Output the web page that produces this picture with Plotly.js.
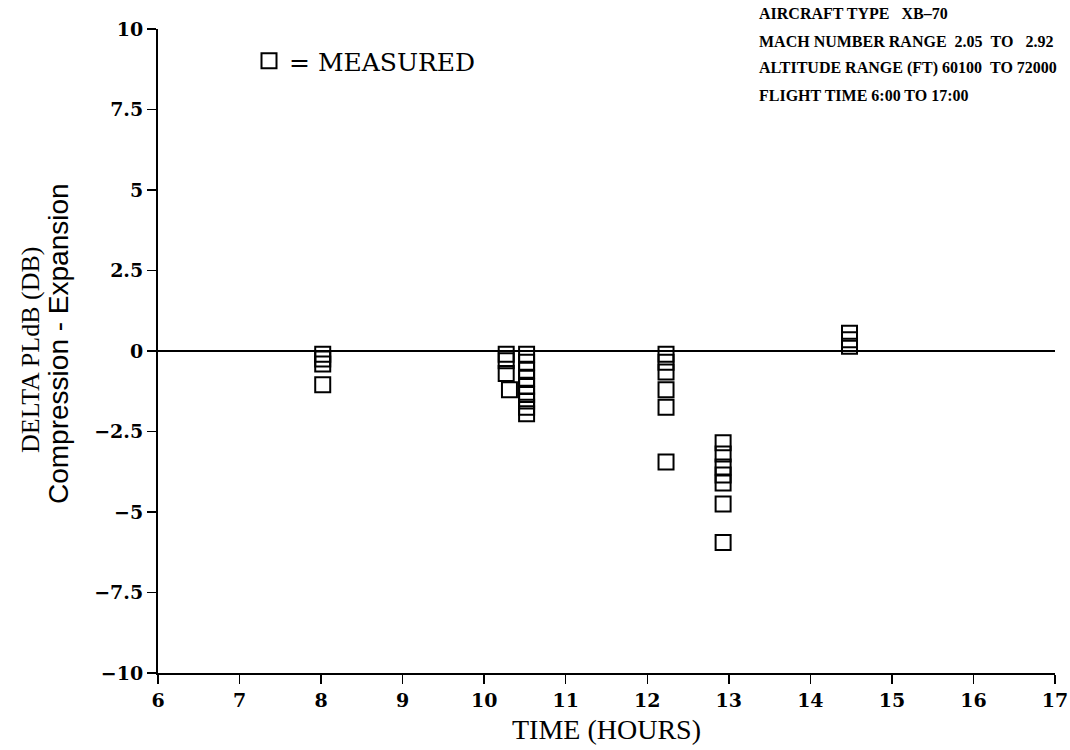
<!DOCTYPE html>
<html><head><meta charset="utf-8">
<script src="https://cdn.plot.ly/plotly-3.0.1.min.js"></script>
<style>html,body{margin:0;padding:0;background:#fff}</style>
</head><body><div id="chart" style="width:1070px;height:750px"></div>
<script>
// Measured data: time of flight (hours) and Delta PLdB (dB)
const timeHours = [
  8.02, 8.02, 8.02, 8.02,
  10.27, 10.27, 10.27, 10.31,
  10.52, 10.52, 10.52, 10.52, 10.52, 10.52, 10.52, 10.52, 10.52,
  12.23, 12.23, 12.23, 12.23, 12.23, 12.23,
  12.93, 12.93, 12.93, 12.93, 12.93, 12.93, 12.93,
  14.48, 14.48, 14.48
];
const deltaPLdB = [
  -0.1, -0.25, -0.4, -1.05,
  -0.1, -0.3, -0.7, -1.2,
  -0.1, -0.35, -0.6, -0.85, -1.1, -1.35, -1.55, -1.75, -1.95,
  -0.1, -0.35, -0.65, -1.2, -1.75, -3.45,
  -2.85, -3.2, -3.6, -3.85, -4.1, -4.75, -5.95,
  0.55, 0.35, 0.15
];
const xTicks = [6, 7, 8, 9, 10, 11, 12, 13, 14, 15, 16, 17];
const yTicks = [-10, -7.5, -5, -2.5, 0, 2.5, 5, 7.5, 10];
const yTickText = ['\u221210', '\u22127.5', '\u22125', '\u22122.5', '0', '2.5', '5', '7.5', '10'];
const infoLines = [
  'AIRCRAFT TYPE \u00a0 XB\u201370',
  'MACH NUMBER RANGE \u00a02.05 \u00a0TO \u00a0 2.92',
  'ALTITUDE RANGE (FT) 60100 \u00a0TO 72000',
  'FLIGHT TIME 6:00 TO 17:00'
];
const legendLabel = '= MEASURED';
const yTitleMain = 'DELTA PLdB (DB)';
const yTitleSub = 'Compression - Expansion';
const xTitle = 'TIME (HOURS)';

const serif = 'Liberation Serif, DejaVu Serif, serif';
const tickFont = {family: 'DejaVu Serif', size: 19, color: '#000', weight: 'bold'};

const trace = {
  x: timeHours, y: deltaPLdB, type: 'scatter', mode: 'markers',
  name: legendLabel,
  marker: {symbol: 'square-open', size: 15, color: '#000', line: {width: 2, color: '#000'}},
  cliponaxis: false
};

const plotL = 158, plotR = 1055, plotT = 29, plotB = 673;
const px2x = p => (p - plotL) / (plotR - plotL);
const py2y = p => (plotB - p) / (plotB - plotT);

const infoY = [14, 41, 68, 95];
const annotations = infoLines.map((t, i) => ({
  text: t, xref: 'paper', yref: 'paper', x: px2x(757), y: py2y(infoY[i]),
  xanchor: 'left', yanchor: 'middle', showarrow: false,
  font: {family: serif, size: 16, color: '#000', weight: 'bold'}
}));
annotations.push({
  text: yTitleMain, xref: 'paper', yref: 'paper', x: px2x(30), y: py2y(350),
  xanchor: 'center', yanchor: 'middle', textangle: -90, showarrow: false,
  font: {family: serif, size: 26, color: '#000'}
});
annotations.push({
  text: yTitleSub, xref: 'paper', yref: 'paper', x: px2x(59), y: py2y(344),
  xanchor: 'center', yanchor: 'middle', textangle: -90, showarrow: false,
  font: {family: 'Liberation Sans, Arial, sans-serif', size: 28, color: '#000'}
});

const layout = {
  width: 1070, height: 750,
  margin: {l: plotL, r: 1070 - plotR, t: plotT, b: 750 - plotB},
  paper_bgcolor: '#fff', plot_bgcolor: '#fff',
  showlegend: true,
  legend: {x: px2x(249), y: py2y(61), xanchor: 'left', yanchor: 'middle',
           font: {family: 'DejaVu Serif', size: 25, color: '#000'}, bgcolor: 'rgba(0,0,0,0)', borderwidth: 0},
  xaxis: {
    range: [6, 17], tickvals: xTicks, ticktext: xTicks.map(String),
    showline: true, linecolor: '#000', linewidth: 2, mirror: false,
    ticks: 'outside', ticklen: 9, tickwidth: 1.5, tickcolor: '#000',
    showgrid: false, zeroline: false, tickfont: tickFont,
    title: {text: xTitle, font: {family: serif, size: 28, color: '#000'}, standoff: 10}
  },
  yaxis: {
    range: [-10, 10], tickvals: yTicks, ticktext: yTickText,
    showline: true, linecolor: '#000', linewidth: 2, mirror: false,
    ticks: 'outside', ticklen: 9, tickwidth: 1.5, tickcolor: '#000',
    showgrid: false, zeroline: true, zerolinecolor: '#000', zerolinewidth: 2,
    tickfont: tickFont
  },
  annotations: annotations
};

Plotly.newPlot('chart', [trace], layout, {displayModeBar: false, staticPlot: true});
</script>
</body></html>
